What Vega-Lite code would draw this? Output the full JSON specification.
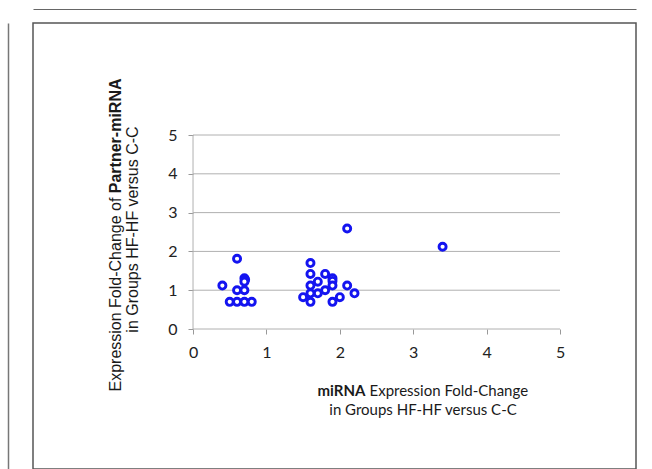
{
  "$schema": "https://vega.github.io/schema/vega-lite/v6.json",
  "width": 603,
  "height": 446,
  "autosize": "none",
  "padding": {"left": 33, "top": 23, "right": 16, "bottom": 0},
  "background": "white",
  "config": {
    "view": {"stroke": "#555555", "strokeWidth": 1.5},
    "axis": {"grid": false, "domain": false, "ticks": false, "labels": false, "titleColor": "#1a1a1a", "titleFontWeight": "normal"}
  },
  "resolve": {"axis": {"x": "independent", "y": "independent"}},
  "layer": [
    {
      "data": {"values": [{"g": 0}, {"g": 1}, {"g": 2}, {"g": 3}, {"g": 4}, {"g": 5}]},
      "mark": {"type": "rule", "color": "#b0b0b0", "strokeWidth": 1},
      "encoding": {
        "y": {"field": "g", "type": "quantitative", "scale": {"domain": [-3.608, 7.887], "nice": false, "zero": false},
          "axis": {"orient": "left", "offset": -160, "title": "Expression Fold-Change of", "titleX": -78, "titleY": 368, "titleAngle": 270, "titleAlign": "left", "titleBaseline": "middle", "titleFont": "Liberation Sans", "titleFontSize": 16}},
        "x": {"datum": 0, "type": "quantitative", "scale": {"domain": [-2.18, 6.035], "nice": false, "zero": false},
          "axis": {"orient": "bottom", "offset": -140, "title": "Expression Fold-Change", "titleX": 336, "titleY": 61, "titleAngle": 0, "titleAlign": "left", "titleBaseline": "middle", "titleFont": "Lato", "titleFontSize": 15}},
        "x2": {"datum": 5}
      }
    },
    {
      "data": {"values": [{"a": 0}]},
      "mark": {"type": "rule", "color": "#b0b0b0", "strokeWidth": 1},
      "encoding": {
        "x": {"datum": 0, "type": "quantitative", "scale": {"domain": [-2.18, 6.035], "nice": false, "zero": false},
          "axis": {"orient": "bottom", "offset": -140, "title": "miRNA", "titleX": 284, "titleY": 61, "titleAngle": 0, "titleAlign": "left", "titleBaseline": "middle", "titleFont": "Lato", "titleFontSize": 15, "titleFontWeight": "bold"}},
        "y": {"datum": 0, "type": "quantitative", "scale": {"domain": [-3.608, 7.887], "nice": false, "zero": false},
          "axis": {"orient": "left", "offset": -160, "title": "Partner-miRNA", "titleX": -78, "titleY": 169.7, "titleAngle": 270, "titleAlign": "left", "titleBaseline": "middle", "titleFont": "Liberation Sans", "titleFontSize": 16, "titleFontWeight": "bold"}},
        "y2": {"datum": 5}
      }
    },
    {
      "data": {"values": [
        {"mirna": 0.4, "partner": 1.12},
        {"mirna": 0.6, "partner": 1.81},
        {"mirna": 0.7, "partner": 1.31},
        {"mirna": 0.71, "partner": 1.27},
        {"mirna": 0.7, "partner": 1.22},
        {"mirna": 0.6, "partner": 1.0},
        {"mirna": 0.7, "partner": 1.0},
        {"mirna": 0.5, "partner": 0.7},
        {"mirna": 0.6, "partner": 0.7},
        {"mirna": 0.7, "partner": 0.7},
        {"mirna": 0.8, "partner": 0.7},
        {"mirna": 1.6, "partner": 1.7},
        {"mirna": 1.6, "partner": 1.42},
        {"mirna": 1.8, "partner": 1.42},
        {"mirna": 1.9, "partner": 1.31},
        {"mirna": 1.9, "partner": 1.24},
        {"mirna": 1.7, "partner": 1.22},
        {"mirna": 1.6, "partner": 1.12},
        {"mirna": 1.9, "partner": 1.12},
        {"mirna": 2.1, "partner": 1.12},
        {"mirna": 1.8, "partner": 1.0},
        {"mirna": 1.7, "partner": 0.92},
        {"mirna": 1.6, "partner": 0.92},
        {"mirna": 2.2, "partner": 0.92},
        {"mirna": 1.5, "partner": 0.82},
        {"mirna": 2.0, "partner": 0.82},
        {"mirna": 1.6, "partner": 0.7},
        {"mirna": 1.9, "partner": 0.7},
        {"mirna": 2.1, "partner": 2.59},
        {"mirna": 3.4, "partner": 2.12}
      ]},
      "mark": {"type": "point", "shape": "circle", "filled": true, "fill": "white", "stroke": "#1414f0", "strokeWidth": 2.9, "size": 50, "opacity": 1},
      "encoding": {
        "x": {"field": "mirna", "type": "quantitative", "scale": {"domain": [-2.18, 6.035], "nice": false, "zero": false},
          "axis": {"orient": "bottom", "offset": -140, "values": [0, 1, 2, 3, 4, 5], "labels": true, "ticks": true, "tickSize": 5, "tickColor": "#999999", "labelFont": "Lato", "labelFontSize": 16, "labelColor": "#222222", "labelPadding": 10,
            "title": "in Groups HF-HF versus C-C", "titleX": 389.5, "titleY": 80, "titleAngle": 0, "titleAlign": "center", "titleBaseline": "middle", "titleFont": "Lato", "titleFontSize": 15}},
        "y": {"field": "partner", "type": "quantitative", "scale": {"domain": [-3.608, 7.887], "nice": false, "zero": false},
          "axis": {"orient": "left", "offset": -160, "values": [0, 1, 2, 3, 4, 5], "labels": true, "ticks": true, "tickSize": 5, "tickColor": "#999999", "labelFont": "Lato", "labelFontSize": 16, "labelColor": "#222222", "labelPadding": 11,
            "title": "in Groups HF-HF versus C-C", "titleX": -61, "titleY": 206, "titleAngle": 270, "titleAlign": "center", "titleBaseline": "middle", "titleFont": "Liberation Sans", "titleFontSize": 16}}
      }
    },
    {
      "data": {"values": [{"fx": 0, "fy": 0}]},
      "mark": {"type": "point", "opacity": 0},
      "encoding": {
        "x": {"field": "fx", "type": "quantitative", "scale": {"domain": [-2.18, 6.035], "nice": false, "zero": false},
          "axis": {"orient": "top", "offset": 14, "domain": true, "domainColor": "#666666", "domainWidth": 1.2, "title": null}},
        "y": {"field": "fy", "type": "quantitative", "scale": {"domain": [-3.608, 7.887], "nice": false, "zero": false},
          "axis": {"orient": "left", "offset": 25, "domain": true, "domainColor": "#777777", "domainWidth": 1.5, "title": null}}
      }
    }
  ]
}
